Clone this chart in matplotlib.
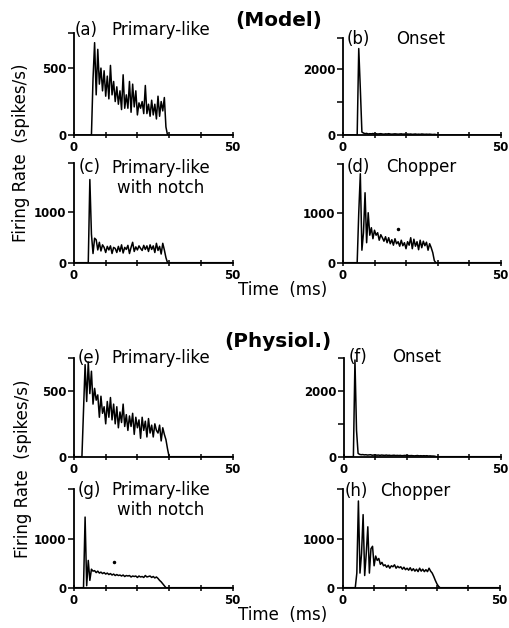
import numpy as np
import matplotlib.pyplot as plt

W, H = 510, 628
dt = 0.5  # bin width (ms)

# firing rates (spikes/s), one value per 0.5 ms bin starting at t0
a_t0 = 5.5
a_rate = [0, 420, 690, 300, 640, 380, 500, 330, 480, 290, 440, 270, 520, 300, 400, 250,
          360, 230, 330, 190, 450, 200, 300, 200, 400, 170, 380, 210, 330, 150, 240, 200,
          250, 160, 370, 160, 230, 140, 260, 150, 230, 120, 290, 140, 250, 180, 280, 60, 0]

b_t0 = 4.5
b_rate = [0, 2620, 1400, 90, 60, 40, 50, 30, 40, 35, 45, 30, 40, 30, 35, 40, 30, 25, 35,
          30, 40, 30, 25, 30, 35, 30, 25, 30, 35, 25, 30, 20, 30, 25, 30, 20, 25, 30, 20,
          25, 20, 30, 25, 20, 25, 20, 25, 20, 15, 20, 15, 0]

c_t0 = 4.5
c_rate = [0, 1630, 560, 180, 480, 450, 250, 400, 230, 350, 300, 200, 320, 250, 330, 180,
          300, 280, 200, 320, 220, 350, 190, 300, 260, 340, 180, 300, 400, 220, 310, 250,
          330, 280, 240, 340, 260, 330, 220, 350, 260, 330, 200, 380, 240, 320, 170, 380,
          250, 100, 0]

d_t0 = 4.5
d_rate = [0, 1000, 1780, 250, 600, 1400, 400, 1000, 550, 700, 480, 650, 550, 600, 450,
          560, 500, 430, 520, 400, 500, 380, 460, 350, 480, 380, 420, 330, 450, 340, 400,
          280, 420, 350, 500, 280, 470, 330, 420, 260, 450, 300, 430, 340, 410, 250, 380,
          300, 200, 40, 0]

e_t0 = 2.5
e_rate = [0, 350, 700, 420, 720, 480, 650, 400, 520, 430, 470, 300, 460, 330, 380, 250,
          420, 300, 450, 280, 400, 250, 380, 220, 340, 260, 400, 230, 320, 200, 310, 230,
          330, 170, 300, 220, 280, 140, 300, 200, 270, 150, 290, 180, 240, 150, 250, 200,
          180, 240, 120, 220, 170, 130, 60, 0]

f_t0 = 3.0
f_rate = [0, 2940, 800, 100, 70, 60, 65, 55, 60, 50, 55, 60, 45, 50, 55, 45, 50, 40, 50,
          45, 40, 50, 40, 45, 35, 40, 45, 35, 40, 35, 40, 30, 35, 40, 30, 35, 30, 35, 30,
          25, 30, 35, 25, 30, 25, 30, 25, 30, 20, 25, 20, 20, 15, 0]

g_t0 = 3.0
g_rate = [0, 1450, 40, 560, 150, 380, 340, 350, 310, 340, 300, 320, 290, 310, 280, 300,
          270, 290, 260, 280, 250, 270, 250, 260, 240, 260, 230, 250, 240, 250, 220, 240,
          230, 240, 210, 240, 220, 230, 210, 250, 220, 230, 240, 210, 230, 200, 220, 190,
          150, 120, 80, 40, 0]

h_t0 = 4.0
h_rate = [0, 300, 1780, 300, 700, 1500, 250, 700, 1250, 300, 800, 850, 450, 650, 560, 600,
          480, 520, 450, 470, 420, 460, 400, 450, 430, 470, 400, 440, 410, 430, 380, 420,
          370, 400, 360, 410, 350, 390, 340, 380, 330, 400, 340, 380, 330, 370, 330, 400,
          340, 300, 230, 150, 80, 30, 0]

# stray dots
d_dot = (17.5, 680)
g_dot = (12.7, 520)

letters = ['(a)', '(b)', '(c)', '(d)', '(e)', '(f)', '(g)', '(h)']
names = ['Primary-like', 'Onset', 'Primary-like\nwith notch', 'Chopper',
         'Primary-like', 'Onset', 'Primary-like\nwith notch', 'Chopper']
starts = [a_t0, b_t0, c_t0, d_t0, e_t0, f_t0, g_t0, h_t0]
rates = [a_rate, b_rate, c_rate, d_rate, e_rate, f_rate, g_rate, h_rate]
ytops = [760, 2930, 1960, 1975, 753, 3010, 2020, 2020]
yticks = [[0, 500], [0, 1000, 2000], [0, 1000], [0, 1000],
          [0, 500], [0, 1000, 2000], [0, 1000], [0, 1000]]
ylabels = [['0', '500'], ['0', '', '2000'], ['0', '1000'], ['0', '1000'],
           ['0', '500'], ['0', '', '2000'], ['0', '1000'], ['0', '1000']]

# pixel layout: left, bottom(zero line), width, top
boxes = [(74, 135, 158.5, 33.3), (343, 135, 157.5, 38.3),
         (74, 262.7, 158.5, 162.7), (343, 262.7, 157.5, 164),
         (74, 456.7, 158.5, 357.7), (344, 456.7, 156.5, 357.7),
         (74, 587.7, 158.5, 489.3), (342.7, 587.7, 157, 489.3)]
letter_pos = [(75, 30), (346.7, 39), (79, 167), (346.7, 167.5),
              (77.5, 358), (348.3, 356.5), (77.3, 490), (345, 491)]
name_pos = [(160.6, 30), (420.8, 39), (161, 178), (421.7, 167.5),
            (160.8, 358), (416.3, 356.5), (161, 500), (415, 491)]


def fx(x):
    return x / W


def fy(y):
    return 1 - y / H


fig = plt.figure(figsize=(W / 100, H / 100), dpi=100)

for i in range(8):
    left, zero, width, top = boxes[i]
    ax = fig.add_axes([fx(left), fy(zero), width / W, (zero - top) / H])
    r = np.array(rates[i], dtype=float)
    t = starts[i] + dt * np.arange(len(r))
    t = np.concatenate([[0], t, [50]])
    r = np.concatenate([[0], r, [0]])
    ax.plot(t, r, color='black', lw=1.1)
    if i == 3:
        ax.plot(*d_dot, 'k.', ms=3)
    if i == 6:
        ax.plot(*g_dot, 'k.', ms=3)
    ax.set_xlim(0, 50)
    ax.set_ylim(0, ytops[i])
    ax.spines[['top', 'right']].set_visible(False)
    ax.spines[['left', 'bottom']].set_linewidth(1.3)
    ax.set_xticks([0, 10, 20, 30, 40, 50])
    ax.set_xticklabels(['0', '', '', '', '', '50'])
    ax.set_yticks(yticks[i] + [ytops[i]])
    ax.set_yticklabels(ylabels[i] + [''])
    ax.tick_params(axis='y', direction='out', length=4, width=1.1, pad=1.5, labelsize=8.5)
    ax.tick_params(axis='x', direction='inout', length=4, width=1.1, pad=2.5, labelsize=8.5)
    for lab in ax.get_xticklabels() + ax.get_yticklabels():
        lab.set_fontweight('bold')

    fig.text(fx(letter_pos[i][0]), fy(letter_pos[i][1]), letters[i],
             ha='left', va='center', fontsize=12)
    fig.text(fx(name_pos[i][0]), fy(name_pos[i][1]), names[i],
             ha='center', va='center', fontsize=12, linespacing=1.2)

fig.text(fx(278.5), fy(20.5), '(Model)', ha='center', va='center',
         fontsize=14.4, fontweight='bold')
fig.text(fx(277.4), fy(341.7), '(Physiol.)', ha='center', va='center',
         fontsize=14.4, fontweight='bold')

for y in [290.5, 614.5]:
    fig.text(fx(282.5), fy(y), 'Time  (ms)', ha='center', va='center', fontsize=12)
for x, y in [(21, 152.5), (23, 469)]:
    fig.text(fx(x), fy(y), 'Firing Rate  (spikes/s)', ha='center', va='center',
             rotation=90, fontsize=12)

fig.savefig('out.png', dpi=100)
